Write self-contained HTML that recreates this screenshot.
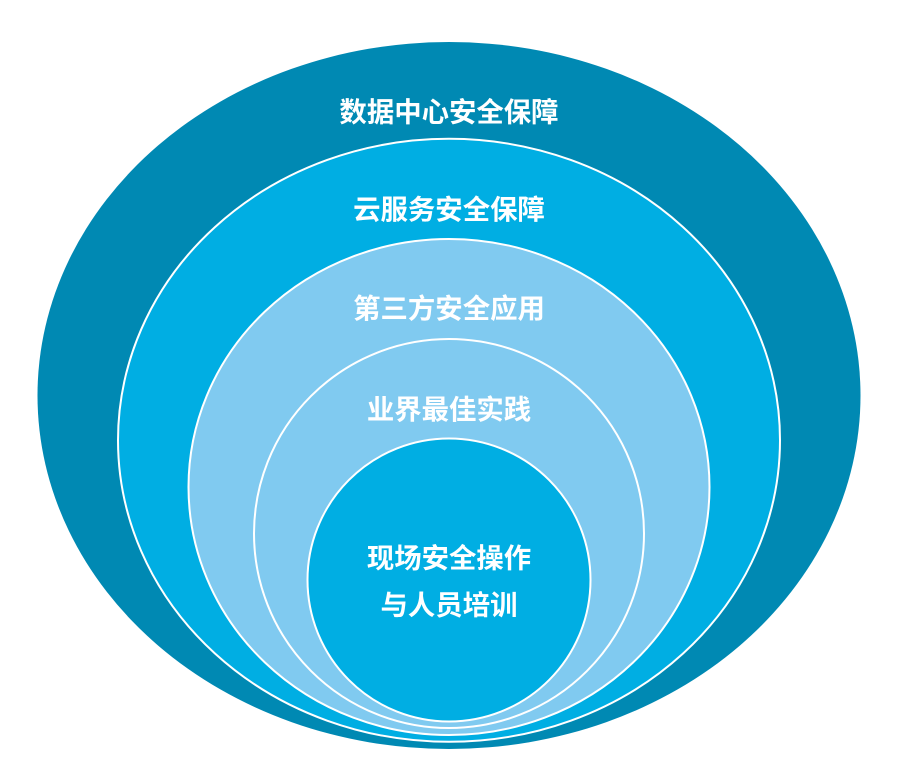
<!DOCTYPE html>
<html lang="zh">
<head>
<meta charset="utf-8">
<style>
html,body{margin:0;padding:0;background:#fff;width:908px;height:770px;overflow:hidden}
svg{display:block}
text{font-family:"Liberation Sans","Noto Sans CJK SC",sans-serif;font-weight:700;fill:#fff;text-anchor:middle;font-size:27.4px}
</style>
</head>
<body>
<svg width="908" height="770" viewBox="0 0 908 770" xmlns="http://www.w3.org/2000/svg">
<ellipse cx="449" cy="395.500" rx="411.500" ry="353.500" fill="#0089b3"/>
<ellipse cx="449" cy="440.300" rx="331" ry="301.500" fill="#00aee3" stroke="#fff" stroke-width="2"/>
<ellipse cx="449" cy="487" rx="260.500" ry="248" fill="#80caf0" stroke="#fff" stroke-width="2"/>
<ellipse cx="449" cy="533.500" rx="195" ry="194.500" fill="#80caf0" stroke="#fff" stroke-width="2"/>
<ellipse cx="449" cy="580" rx="141.500" ry="141.500" fill="#00aee3" stroke="#fff" stroke-width="2"/>
<text x="449" y="121.500">数据中心安全保障</text>
<text x="449" y="219">云服务安全保障</text>
<text x="449" y="318">第三方安全应用</text>
<text x="449" y="419">业界最佳实践</text>
<text x="449" y="567.300">现场安全操作</text>
<text x="449" y="614.300">与人员培训</text>
</svg>
</body>
</html>
